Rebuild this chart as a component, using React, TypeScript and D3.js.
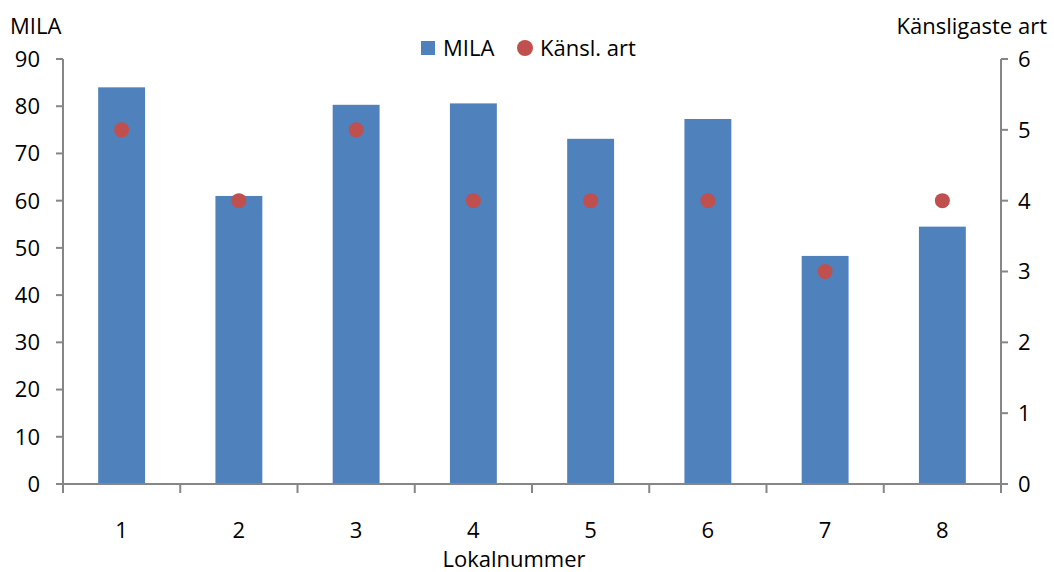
import React from "react";
import * as d3 from "d3";

const categories = ["1", "2", "3", "4", "5", "6", "7", "8"];
const milaValues = [84.0, 61.0, 80.3, 80.6, 73.1, 77.3, 48.3, 54.5];
const kanslValues = [5, 4, 5, 4, 4, 4, 3, 4];
const leftTicks = [0, 10, 20, 30, 40, 50, 60, 70, 80, 90];
const rightTicks = [0, 1, 2, 3, 4, 5, 6];

const W = 1054;
const H = 572;
const margin = { left: 63, right: 53, top: 59, bottom: 88 };
const FONT = "'Open Sans', Lato, sans-serif";
const FS = 22;
const AXIS = "#868686";
const BAR = "#4F81BD";
const DOT = "#C0504D";

export default function App() {
  const x0 = margin.left;
  const x1 = W - margin.right;
  const yTop = margin.top;
  const yBot = H - margin.bottom;

  const x = d3.scaleBand<string>().domain(categories).range([x0, x1]).paddingInner(0.6).paddingOuter(0.3);
  const xCat = d3.scaleBand<string>().domain(categories).range([x0, x1]);
  const yL = d3.scaleLinear().domain([0, 90]).range([yBot, yTop]);
  const yR = d3.scaleLinear().domain([0, 6]).range([yBot, yTop]);

  const catEdges = categories.map((c) => xCat(c) as number).concat([x1]);

  return (
    <svg width={W} height={H} style={{ position: "absolute", left: 0, top: 0, background: "#fff" }} fontFamily={FONT}>
      {/* bars */}
      {categories.map((c, i) => (
        <rect
          key={c}
          x={x(c)}
          y={yL(milaValues[i])}
          width={x.bandwidth()}
          height={yBot - yL(milaValues[i])}
          fill={BAR}
        />
      ))}

      {/* left axis */}
      <line x1={x0} x2={x0} y1={yTop} y2={yBot} stroke={AXIS} strokeWidth={2} />
      {leftTicks.map((t) => (
        <g key={"l" + t}>
          <line x1={x0 - 7} x2={x0} y1={yL(t)} y2={yL(t)} stroke={AXIS} strokeWidth={2} />
          <text x={40} y={yL(t)} dy="0.36em" textAnchor="end" fontSize={FS} fill="#000">
            {t}
          </text>
        </g>
      ))}

      {/* right axis */}
      <line x1={x1} x2={x1} y1={yTop} y2={yBot} stroke={AXIS} strokeWidth={2} />
      {rightTicks.map((t) => (
        <g key={"r" + t}>
          <line x1={x1} x2={x1 + 7} y1={yR(t)} y2={yR(t)} stroke={AXIS} strokeWidth={2} />
          <text x={1018} y={yR(t)} dy="0.36em" textAnchor="start" fontSize={FS} fill="#000">
            {t}
          </text>
        </g>
      ))}

      {/* category axis */}
      <line x1={x0 - 7} x2={x1 + 7} y1={yBot} y2={yBot} stroke={AXIS} strokeWidth={2} />
      {catEdges.map((e, i) => (
        <line key={"ct" + i} x1={e} x2={e} y1={yBot} y2={yBot + 9} stroke={AXIS} strokeWidth={2} />
      ))}
      {categories.map((c) => (
        <text
          key={"cl" + c}
          x={(xCat(c) as number) + xCat.bandwidth() / 2}
          y={538}
          textAnchor="middle"
          fontSize={FS}
          fill="#000"
        >
          {c}
        </text>
      ))}

      {/* dots */}
      {categories.map((c, i) => (
        <circle
          key={"d" + c}
          cx={(xCat(c) as number) + xCat.bandwidth() / 2}
          cy={yR(kanslValues[i])}
          r={7.5}
          fill={DOT}
        />
      ))}

      {/* axis titles */}
      <text x={10} y={34} fontSize={FS} fill="#000">MILA</text>
      <text x={1047} y={34} textAnchor="end" fontSize={FS} fill="#000">Känsligaste art</text>
      <text x={514} y={567} textAnchor="middle" fontSize={FS} fill="#000">Lokalnummer</text>

      {/* legend */}
      <rect x={421} y={41} width={14} height={14} fill={BAR} />
      <text x={443} y={56} fontSize={FS} fill="#000">MILA</text>
      <circle cx={525} cy={48} r={8} fill={DOT} />
      <text x={540} y={56} fontSize={FS} fill="#000">Känsl. art</text>
    </svg>
  );
}
